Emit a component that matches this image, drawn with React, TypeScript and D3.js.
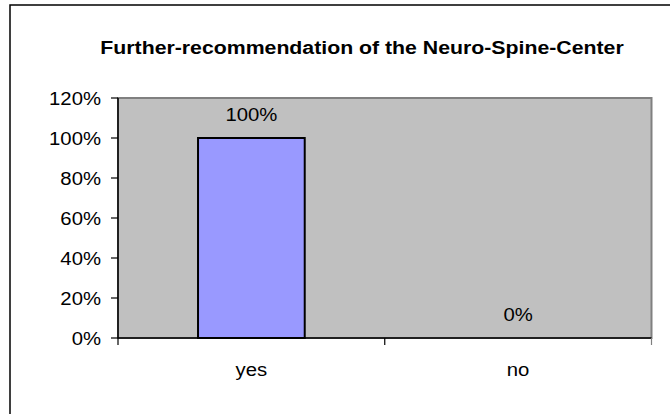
import React from "react";
import * as d3 from "d3";

const categories = ["yes", "no"];
const values = [100, 0];
const valueLabels = ["100%", "0%"];
const yTicks = [0, 20, 40, 60, 80, 100, 120];
const title = "Further-recommendation of the Neuro-Spine-Center";

const W = 670;
const H = 414;
const plot = { left: 118, right: 651.5, top: 98, bottom: 338 };
const FONT = "'Liberation Sans', Arial, Helvetica, sans-serif";

function SText(props: { x: number; y: number; size: number; sx: number; bold?: boolean; anchor?: string; children: string }) {
  const { x, y, size, sx, bold, anchor, children } = props;
  return (
    <g transform={`translate(${x},${y}) scale(${sx},1)`}>
      <text
        x={0}
        y={0}
        fontSize={size}
        fontWeight={bold ? "bold" : "normal"}
        fontFamily={FONT}
        textAnchor={anchor || "middle"}
        fill="#000"
      >
        {children}
      </text>
    </g>
  );
}

export default function App() {
  const x = d3.scaleBand<string>().domain(categories).range([plot.left, plot.right]).paddingInner(0).paddingOuter(0);
  const y = d3.scaleLinear().domain([0, 120]).range([plot.bottom, plot.top]);
  const barW = x.bandwidth() * 0.4;
  const tickPositions = [plot.left, ...categories.map((c) => (x(c) as number) + x.bandwidth())];
  const LS = 19;
  const LSX = 1.07;

  return (
    <svg
      width={W}
      height={H}
      style={{ position: "absolute", left: 0, top: 0, display: "block" }}
    >
      <rect x={0} y={0} width={W} height={H} fill="#fff" />
      {/* outer chart border */}
      <rect x={10} y={5} width={720} height={450} fill="#fff" stroke="#000" strokeWidth={1.5} />
      <SText x={362} y={54} size={19} sx={1.12} bold>
        {title}
      </SText>
      {/* plot area */}
      <rect
        x={plot.left}
        y={plot.top}
        width={plot.right - plot.left}
        height={plot.bottom - plot.top}
        fill="#C0C0C0"
        stroke="#808080"
        strokeWidth={2}
      />
      {/* bars */}
      {categories.map((c, i) => {
        const cx = (x(c) as number) + x.bandwidth() / 2;
        const h = plot.bottom - y(values[i]);
        return h > 0 ? (
          <rect
            key={c}
            x={cx - barW / 2}
            y={y(values[i])}
            width={barW}
            height={h}
            fill="#9999FF"
            stroke="#000"
            strokeWidth={2}
          />
        ) : null;
      })}
      {/* axes */}
      <line x1={plot.left} x2={plot.left} y1={plot.top} y2={plot.bottom} stroke="#000" strokeWidth={1.5} />
      <line x1={plot.left} x2={plot.right} y1={plot.bottom} y2={plot.bottom} stroke="#000" strokeWidth={1.5} />
      {yTicks.map((t) => (
        <g key={t}>
          <line x1={plot.left - 7} x2={plot.left} y1={y(t)} y2={y(t)} stroke="#000" strokeWidth={1.2} />
          <SText x={101} y={y(t) + 7} size={LS} sx={LSX} anchor="end">
            {`${t}%`}
          </SText>
        </g>
      ))}
      {tickPositions.map((p, i) => (
        <line key={i} x1={p} x2={p} y1={plot.bottom} y2={plot.bottom + 7} stroke={i === 2 ? "#808080" : "#000"} strokeWidth={1.2} />
      ))}
      {categories.map((c) => (
        <SText key={c} x={(x(c) as number) + x.bandwidth() / 2} y={376} size={LS} sx={LSX}>
          {c}
        </SText>
      ))}
      {/* data labels */}
      {categories.map((c, i) => (
        <SText key={c} x={(x(c) as number) + x.bandwidth() / 2} y={y(values[i]) - 17} size={LS} sx={LSX}>
          {valueLabels[i]}
        </SText>
      ))}
    </svg>
  );
}
